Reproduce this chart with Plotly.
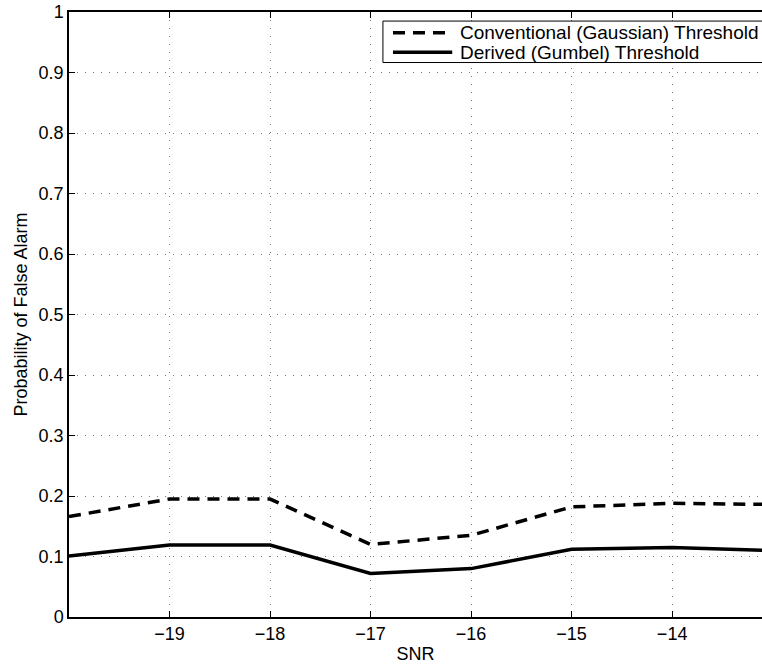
import plotly.graph_objects as go

snr = [-20, -19, -18, -17, -16, -15, -14, -13]
conventional = [0.166, 0.195, 0.195, 0.120, 0.135, 0.182, 0.188, 0.186]
derived = [0.101, 0.119, 0.119, 0.072, 0.080, 0.112, 0.115, 0.110]

series_names = ["Conventional (Gaussian) Threshold", "Derived (Gumbel) Threshold"]

x_ticks = [-19, -18, -17, -16, -15, -14]
y_ticks = [0, 0.1, 0.2, 0.3, 0.4, 0.5, 0.6, 0.7, 0.8, 0.9, 1]
y_labels = ["0", "0.1", "0.2", "0.3", "0.4", "0.5", "0.6", "0.7", "0.8", "0.9", "1"]

FONT = "Liberation Sans, Arial, Helvetica, sans-serif"
DASH = "12px,8px"

fig = go.Figure()
fig.add_trace(go.Scatter(
    x=snr, y=conventional, mode="lines", name=series_names[0],
    line=dict(color="black", width=3.5, dash=DASH), showlegend=False,
))
fig.add_trace(go.Scatter(
    x=snr, y=derived, mode="lines", name=series_names[1],
    line=dict(color="black", width=3.5), showlegend=False,
))

axis_common = dict(
    showline=True, linecolor="black", linewidth=1.5,
    ticks="inside", ticklen=6, tickwidth=1, tickcolor="black",
    showgrid=True, gridcolor="#7a7a7a", gridwidth=1, griddash="1px,7px",
    zeroline=False,
    tickfont=dict(family=FONT, size=18, color="black"),
)

fig.update_xaxes(
    range=[-20, -13.106], tickmode="array", tickvals=x_ticks,
    mirror="ticks",
    title=dict(text="SNR", font=dict(family=FONT, size=18, color="black"), standoff=4),
    **axis_common,
)
fig.update_yaxes(
    range=[0, 1], tickmode="array", tickvals=y_ticks, ticktext=y_labels,
    mirror=False,
    title=dict(text="Probability of False Alarm", font=dict(family=FONT, size=18, color="black"), standoff=6),
    **axis_common,
)

# Manual legend (box cut by the right edge, as in the reference)
box_x0, box_y0, box_y1 = 0.453, 0.9165, 0.985
row_y = [0.9655, 0.9335]
line_x0, line_x1 = 0.4675, 0.553
text_x = 0.563
fig.add_shape(type="rect", xref="paper", yref="paper",
              x0=box_x0, x1=1.05, y0=box_y0, y1=box_y1,
              line=dict(color="black", width=1), fillcolor="white", layer="above")
dashes = [DASH, "solid"]
for i, name in enumerate(series_names):
    fig.add_shape(type="line", xref="paper", yref="paper",
                  x0=line_x0, x1=line_x1, y0=row_y[i], y1=row_y[i],
                  line=dict(color="black", width=3.5, dash=dashes[i]), layer="above")
    fig.add_annotation(xref="paper", yref="paper", x=text_x, y=row_y[i],
                       text=name, showarrow=False, xanchor="left", yanchor="middle",
                       borderpad=0,
                       font=dict(family=FONT, size=19, color="black"))

fig.update_layout(
    width=762, height=665,
    margin=dict(l=69, r=0, t=12, b=48),
    paper_bgcolor="white", plot_bgcolor="white",
    font=dict(family=FONT, size=18, color="black"),
    showlegend=False,
)

fig.write_html("out.html")
